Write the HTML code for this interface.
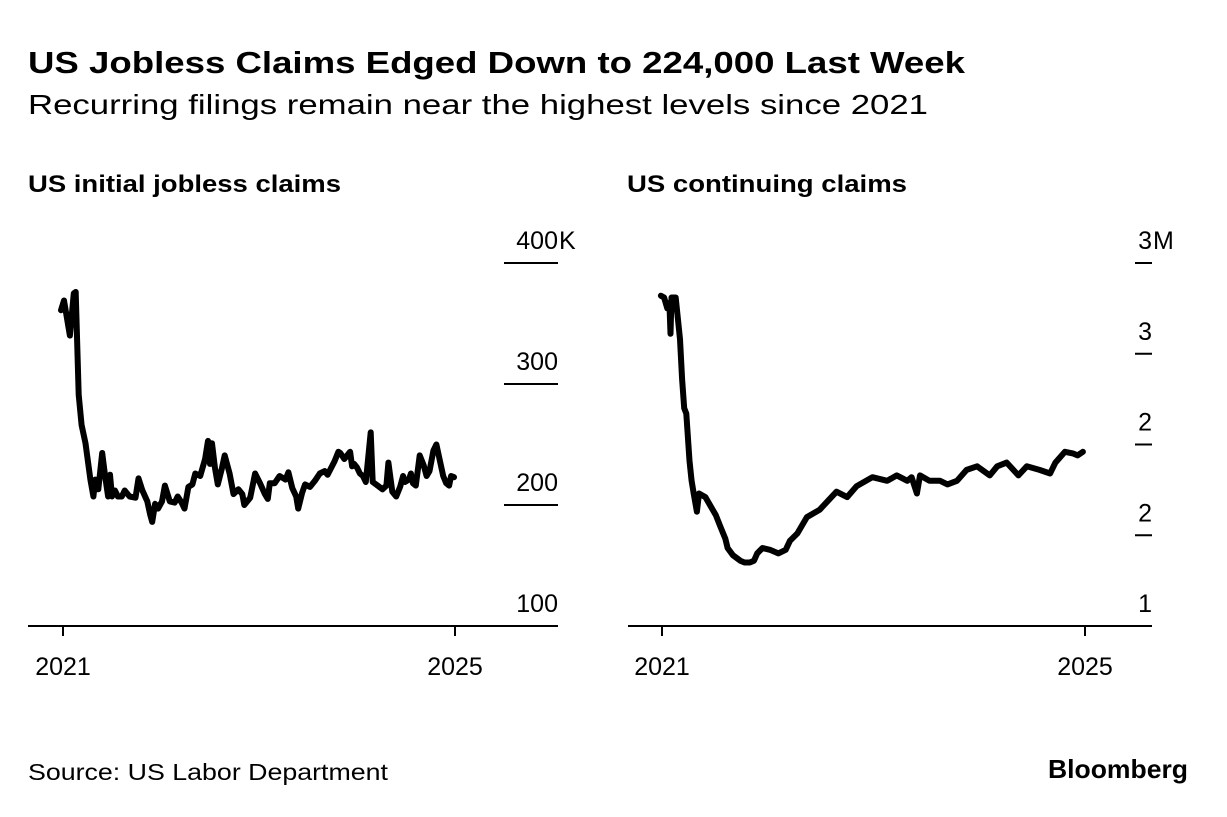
<!DOCTYPE html>
<html><head><meta charset="utf-8">
<style>
body{margin:0;background:#fff;}
svg text{font-family:"Liberation Sans",Arial,sans-serif;fill:#000;}
</style></head>
<body>
<svg width="1227" height="812" viewBox="0 0 1227 812" xmlns="http://www.w3.org/2000/svg">
<text x="28" y="73" font-size="31" font-weight="bold" textLength="937" lengthAdjust="spacingAndGlyphs">US Jobless Claims Edged Down to 224,000 Last Week</text>
<text x="28" y="114" font-size="28" textLength="900" lengthAdjust="spacingAndGlyphs">Recurring filings remain near the highest levels since 2021</text>
<text x="28" y="192" font-size="24" font-weight="bold" textLength="313" lengthAdjust="spacingAndGlyphs">US initial jobless claims</text>
<text x="627" y="192" font-size="24" font-weight="bold" textLength="280" lengthAdjust="spacingAndGlyphs">US continuing claims</text>
<text x="28" y="780" font-size="23" textLength="360" lengthAdjust="spacingAndGlyphs">Source: US Labor Department</text>
<text x="1048" y="778" font-size="26" font-weight="bold" textLength="140" lengthAdjust="spacingAndGlyphs">Bloomberg</text>
<g id="left"></g>
<g id="right"></g>
</svg>
<script>
const leftYears=[2020.98,2021.01,2021.07,2021.11,2021.13,2021.16,2021.19,2021.23,2021.28,2021.31,2021.33,2021.36,2021.40,2021.43,2021.46,2021.48,2021.50,2021.53,2021.56,2021.60,2021.63,2021.68,2021.74,2021.77,2021.81,2021.86,2021.89,2021.91,2021.94,2021.97,2022.01,2022.04,2022.09,2022.14,2022.17,2022.21,2022.24,2022.28,2022.32,2022.35,2022.40,2022.45,2022.48,2022.50,2022.52,2022.55,2022.58,2022.62,2022.65,2022.70,2022.74,2022.79,2022.83,2022.85,2022.91,2022.96,2023.01,2023.06,2023.09,2023.11,2023.16,2023.21,2023.27,2023.30,2023.34,2023.38,2023.40,2023.44,2023.47,2023.52,2023.57,2023.62,2023.67,2023.70,2023.77,2023.81,2023.83,2023.87,2023.93,2023.95,2023.97,2024.00,2024.03,2024.06,2024.09,2024.14,2024.16,2024.21,2024.26,2024.30,2024.32,2024.36,2024.40,2024.44,2024.47,2024.49,2024.53,2024.55,2024.57,2024.60,2024.64,2024.68,2024.71,2024.74,2024.78,2024.81,2024.85,2024.88,2024.91,2024.94,2024.96,2024.99];
const leftValues=[361,369,340,375,376,291,266,251,221,207,221,213,243,224,207,225,207,212,207,207,212,207,206,222,212,203,192,186,201,197,203,216,203,202,207,202,197,215,217,226,224,238,253,234,251,231,217,230,241,226,209,213,209,200,206,226,218,209,205,218,218,224,221,227,214,207,197,210,217,215,220,226,228,225,236,244,243,238,244,232,234,231,226,224,219,260,219,216,213,216,235,211,207,215,224,219,221,226,218,216,241,233,224,228,245,250,235,224,218,216,224,223];
const leftTicks=[100,200,300,400];
const leftTickLabels=["100","200","300","400K"];
const rightYears=[2020.99,2021.02,2021.05,2021.07,2021.08,2021.09,2021.13,2021.17,2021.19,2021.21,2021.23,2021.26,2021.28,2021.30,2021.33,2021.35,2021.41,2021.45,2021.51,2021.55,2021.60,2021.62,2021.67,2021.74,2021.78,2021.83,2021.87,2021.90,2021.95,2022.02,2022.10,2022.17,2022.21,2022.28,2022.37,2022.49,2022.65,2022.75,2022.84,2022.99,2023.13,2023.22,2023.32,2023.36,2023.41,2023.44,2023.53,2023.63,2023.70,2023.79,2023.88,2023.98,2024.10,2024.17,2024.26,2024.37,2024.45,2024.57,2024.67,2024.72,2024.81,2024.89,2024.93,2024.98];
const rightValues=[2.82,2.81,2.75,2.78,2.61,2.81,2.81,2.58,2.36,2.20,2.17,1.91,1.80,1.73,1.63,1.73,1.71,1.67,1.61,1.55,1.48,1.43,1.39,1.36,1.35,1.35,1.36,1.40,1.43,1.42,1.40,1.42,1.47,1.51,1.60,1.64,1.74,1.71,1.77,1.82,1.80,1.83,1.80,1.82,1.73,1.83,1.80,1.80,1.78,1.80,1.86,1.88,1.83,1.88,1.90,1.83,1.88,1.86,1.84,1.90,1.96,1.95,1.94,1.96];
const rightTicks=[1,1.5,2,2.5,3];
const rightTickLabels=["1","2","2","3","3M"];
const xTickYears=[2021,2025];
const xTickLabels=["2021","2025"];
const NS="http://www.w3.org/2000/svg";
function mk(parent,tag,attrs){const e=document.createElementNS(NS,tag);for(const k in attrs)e.setAttribute(k,attrs[k]);parent.appendChild(e);return e;}
function panel(g,cfg){
  const xs=v=>cfg.x0+(v-2021)/4*(cfg.x1-cfg.x0);
  const ys=v=>cfg.yBase-(v-cfg.vMin)/(cfg.vMax-cfg.vMin)*(cfg.yBase-cfg.yTop);
  cfg.ticks.forEach((t,i)=>{
    const y=ys(t);
    if(i>0){const l=mk(g,'line',{x1:cfg.tx0,x2:cfg.tx1,y1:y,y2:y,stroke:'#000','stroke-width':2});
    
    }
    const lab=cfg.labels[i];
    const m=lab.match(/^([\d.]+)(\D*)$/);
    const tx=mk(g,'text',{x:cfg.tx1,y:y-14,'font-size':25,'text-anchor':'end'});
    tx.textContent=m[1];
    
    
    if(m[2]){
      const sx=mk(g,'text',{x:cfg.tx1+1,y:y-14,'font-size':25});
      sx.textContent=m[2];
      
      
    }
  });
  const ax=mk(g,'line',{x1:cfg.ax0,x2:cfg.tx1,y1:cfg.yBase,y2:cfg.yBase,stroke:'#000','stroke-width':2});
  
  
  xTickYears.forEach((yr,i)=>{
    const x=xs(yr);
    const tk=mk(g,'line',{x1:x,x2:x,y1:cfg.yBase,y2:cfg.yBase+10,stroke:'#000','stroke-width':2});
    
    
    const t=mk(g,'text',{x:x,y:cfg.yBase+49,'font-size':25,'text-anchor':'middle'});
    t.textContent=xTickLabels[i];
    
    
  });
  const d=cfg.years.map((yr,i)=>(i?'L':'M')+xs(yr).toFixed(1)+' '+ys(cfg.values[i]).toFixed(1)).join(' ');
  const p=mk(g,'path',{d:d,fill:'none',stroke:'#000','stroke-width':6,'stroke-linejoin':'round','stroke-linecap':'round'});
  
  
}
panel(document.getElementById('left'),{x0:63,x1:455,yBase:626,yTop:263,vMin:100,vMax:400,tx0:504,tx1:558,ax0:28,ticks:leftTicks,labels:leftTickLabels,years:leftYears,values:leftValues,name:'initial-claims-line'});
panel(document.getElementById('right'),{x0:662,x1:1085,yBase:626,yTop:263,vMin:1,vMax:3,tx0:1135,tx1:1152,ax0:628,ticks:rightTicks,labels:rightTickLabels,years:rightYears,values:rightValues,name:'continuing-claims-line'});
</script>
</body></html>
